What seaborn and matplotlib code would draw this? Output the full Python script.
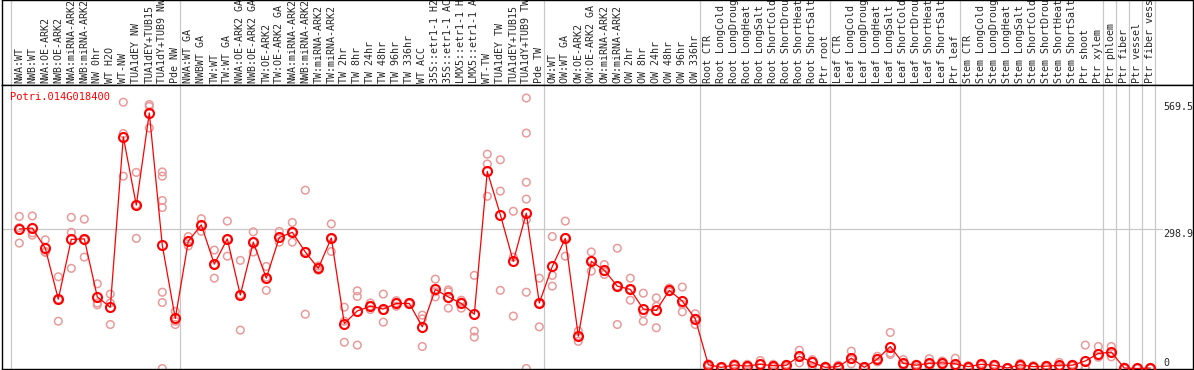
import matplotlib
matplotlib.use("Agg")
import matplotlib.pyplot as plt
import numpy as np
import pandas as pd
import seaborn as sns

sns.set_style("white")
plt.rcParams['font.family'] = ['DejaVu Sans Mono']

gene = "Potri.014G018400"

labels = ["NWA:WT", "NWB:WT", "NWA:OE-ARK2", "NWB:OE-ARK2", "NWA:miRNA-ARK2",
          "NWB:miRNA-ARK2", "NW 0hr", "WT H2O", "WT-NW", "TUA1dEY NW",
          "TUA1dEY+TUB15", "TUA1dY+TUB9 NW", "Pde NW", "NWA:WT GA", "NWBWT GA",
          "TW:WT", "TW:WT GA", "NWA:OE-ARK2 GA", "NWB:OE-ARK2 GA", "TW:OE-ARK2",
          "TW:OE-ARK2 GA", "NWA:miRNA-ARK2", "NWB:miRNA-ARK2", "TW:miRNA-ARK2",
          "TW:miRNA-ARK2", "TW 2hr", "TW 8hr", "TW 24hr", "TW 48hr", "TW 96hr",
          "TW 336hr", "WT ACC", "35S::etr1-1 H2", "35S::etr1-1 AC",
          "LMX5::etr1-1 H", "LMX5::etr1-1 A", "WT-TW", "TUA1dEY TW",
          "TUA1dEY+TUB15", "TUA1dY+TUB9 TW", "Pde TW", "OW:WT", "OW:WT GA",
          "OW:OE-ARK2", "OW:OE-ARK2 GA", "OW:miRNA-ARK2", "OW:miRNA-ARK2",
          "OW 2hr", "OW 8hr", "OW 24hr", "OW 48hr", "OW 96hr", "OW 336hr",
          "Root CTR", "Root LongCold", "Root LongDroug", "Root LongHeat",
          "Root LongSalt", "Root ShortCold", "Root ShortDrou", "Root ShortHeat",
          "Root ShortSalt", "Ptr root", "Leaf CTR", "Leaf LongCold",
          "Leaf LongDroug", "Leaf LongHeat", "Leaf LongSalt", "Leaf ShortCold",
          "Leaf ShortDrou", "Leaf ShortHeat", "Leaf ShortSalt", "Ptr leaf",
          "Stem CTR", "Stem LongCold", "Stem LongDroug", "Stem LongHeat",
          "Stem LongSalt", "Stem ShortCold", "Stem ShortDrou", "Stem ShortHeat",
          "Stem ShortSalt", "Ptr shoot", "Ptr xylem", "Ptr phloem", "Ptr fiber",
          "Ptr vessel", "Ptr fiber vess"]

means = [298, 300, 257, 148, 276, 277, 153, 131, 495, 349,
         546, 263, 107, 272, 307, 223, 277, 157, 270, 193,
         280, 291, 249, 214, 279, 96, 123, 133, 127, 139,
         139, 89, 169, 153, 139, 116, 421, 329, 229, 332,
         140, 218, 278, 69, 229, 210, 176, 169, 127, 124,
         167, 144, 106, 8, 2.5, 7.5, 5.3, 9, 6, 7,
         26, 13, 2.5, 4, 22, 2.5, 20, 47, 11, 7,
         11, 12, 10, 4, 9, 7, 1, 8, 4, 5,
         7, 7, 16, 32, 35, 1, 0, 1]

replicates = [[325, 301, 268], [326, 290, 285], [275, 250, 248], [196, 148, 101],
              [323, 291, 214], [319, 275, 238], [181, 140, 136], [159, 140, 94],
              [569, 502, 411], [419, 350, 278], [564, 560, 514],
              [420, 411, 359, 344, 163, 141, 0], [122, 101, 94], [282, 272, 262],
              [320, 307, 293], [253, 222, 193], [315, 276, 240], [231, 158, 82],
              [292, 270, 249], [218, 195, 167], [293, 278, 270], [312, 291, 270],
              [381, 250, 116], [219, 214, 210], [309, 278, 250], [131, 101, 56],
              [166, 154, 50], [140, 133, 126], [159, 124, 99], [145, 140, 133],
              [141, 139, 138], [114, 106, 47], [191, 164, 153], [168, 164, 129],
              [146, 142, 129], [199, 80, 67], [458, 437, 368], [446, 379, 167],
              [336, 238, 112], [578, 503, 398, 362, 318, 163, 0], [193, 139, 89],
              [282, 199, 176], [315, 280, 240], [80, 69, 58], [249, 230, 208],
              [222, 207, 201], [257, 176, 94], [193, 169, 146], [161, 118, 101],
              [151, 133, 87], [172, 166, 164], [174, 137, 121], [117, 107, 94],
              [10, 8, 5], [4, 2, 1], [10, 7, 5], [9, 4, 3], [17, 9, 2], [9, 6, 2],
              [9, 7, 4], [39, 27, 12], [19, 16, 5], [5, 2, 1], [7, 4, 1],
              [37, 19, 10], [4, 2, 1], [26, 20, 14], [77, 33, 30], [19, 10, 5],
              [9, 7, 3], [21, 10, 3], [16, 11, 7], [22, 6, 2], [6, 4, 2],
              [11, 9, 7], [9, 7, 5], [2, 1, 0], [11, 8, 5], [6, 4, 2], [7, 5, 2],
              [13, 5, 2], [9, 7, 5], [50, 0, 0], [47, 26, 24], [47, 34, 25],
              [3, 1, 0], [1, 0, 0], [2, 1, 0]]

# first column of each sample group (gray separators)
group_starts = [0, 13, 41, 53, 63, 73, 84, 85, 86, 87, 88]
yticks = [0, 298.9, 569.5]

idx = np.arange(len(labels))
rep_df = pd.DataFrame([(i, v) for i, reps in enumerate(replicates) for v in reps],
                      columns=["sample", "value"])
mean_df = pd.DataFrame({"sample": idx, "value": means})

W, H = 1194, 370
fig = plt.figure(figsize=(W / 100, H / 100), dpi=100)
head = fig.add_axes([1.5 / W, 285 / H, 1191.5 / W, 85 / H])
ax = fig.add_axes([1.5 / W, 1 / H, 1191.5 / W, 284 / H])
head.patch.set_visible(False)

xlim = ((1.5 - 19.3) / 13, (1193 - 19.3) / 13)
for a in (head, ax):
    a.set_xlim(*xlim)
    for s in a.spines.values():
        s.set_color("black")
        s.set_linewidth(1)
    for g in group_starts:
        a.axvline(g - 0.615, color="#c8c8c8", lw=0.9, zorder=0)
head.set_ylim(0, 1)
head.set_xticks([])
head.set_yticks([])

ax.set_ylim(-1.07, 605.8)
ax.axhline(298.9, xmax=0.974, color="#c8c8c8", lw=0.9, zorder=0)

sns.scatterplot(data=rep_df, x="sample", y="value", ax=ax, s=30,
                facecolor="none", edgecolor="#e99a9a", linewidth=1.1,
                zorder=2, legend=False)
sns.lineplot(data=mean_df, x="sample", y="value", ax=ax, color="red", lw=0.9,
             marker="o", markersize=6.5, markerfacecolor="none",
             markeredgecolor="red", markeredgewidth=1.5, zorder=3)

ax.xaxis.tick_top()
ax.set_xticks(idx)
ax.set_xticklabels(labels, rotation=90, fontsize=7.2)
ax.tick_params(axis="x", length=0, pad=1.5)
ax.set_xlabel("")
ax.set_ylabel("")

ax.yaxis.tick_right()
ax.set_yticks(yticks)
ax.set_yticklabels([str(t) if t else "0" for t in yticks], fontsize=7.2)
ax.tick_params(axis="y", length=0, pad=-21.6)
for t, lab in zip(yticks, ax.get_yticklabels()):
    lab.set_va("bottom" if t == 0 else "top")

ax.text(0.0071, 0.975, gene, transform=ax.transAxes, color="red",
        fontsize=7.5, va="top", ha="left")

fig.savefig("out.png", dpi=100)
